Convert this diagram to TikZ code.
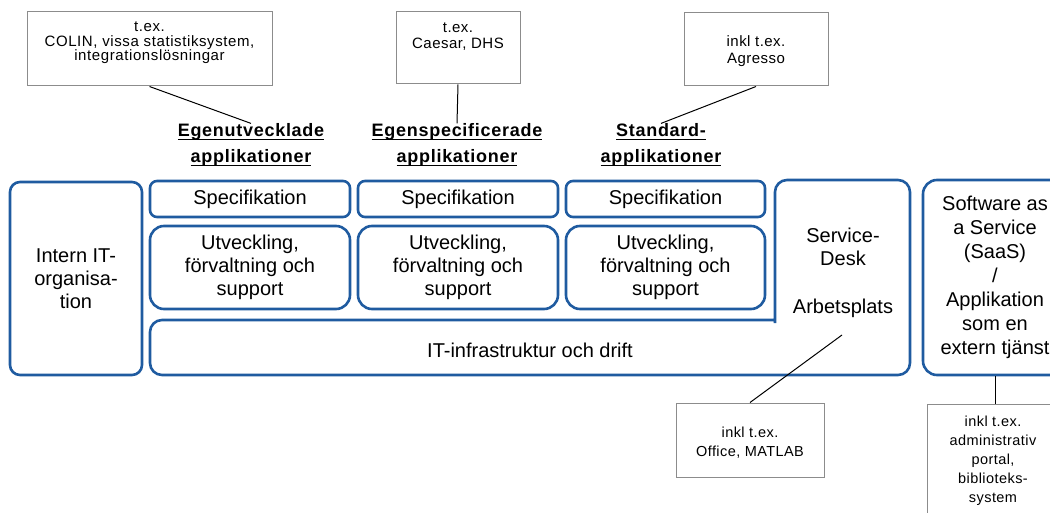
\documentclass[tikz,border=0pt]{standalone}
\usepackage{fontspec}
\setmainfont{Liberation Sans}
\newfontfamily\callfont{Liberation Sans}[LetterSpace=4]
\newfontfamily\callfontb{Liberation Sans}[LetterSpace=3]
\newfontfamily\headfont{Liberation Sans}[LetterSpace=4]
\definecolor{itblue}{RGB}{31,91,160}
\definecolor{callgray}{RGB}{140,140,140}
\newcommand\hul[1]{\setbox0\hbox{#1}\leavevmode\rlap{\rule[-3.4pt]{\wd0}{1.5pt}}\box0}
\begin{document}
\begin{tikzpicture}[x=1pt,y=-1pt,
  blk/.style={draw=itblue, line width=2.6pt, rounded corners=10pt, inner sep=0pt},
  txt/.style={font=\fontsize{20}{23}\selectfont, align=center, inner sep=0pt},
  call/.style={draw=callgray, line width=1pt, inner sep=0pt},
  calltxt/.style={font=\callfontb\fontsize{15}{17}\selectfont, align=center, inner sep=0pt},
  head/.style={font=\headfont\bfseries\fontsize{18}{26}\selectfont, align=center, inner sep=0pt},
  conn/.style={draw=black, line width=1pt}]
\useasboundingbox (0,0) rectangle (1050,513);
\clip (0,0) rectangle (1050,513);
% left box
\node[blk, txt, minimum width=132pt, minimum height=193pt] (intern) at (76,278.5) {Intern IT-\\organisa-\\tion};
% specification boxes
\node[blk, txt, rounded corners=7pt, minimum width=200pt, minimum height=36pt] (spec1) at (250,199) {Specifikation};
\node[blk, txt, rounded corners=7pt, minimum width=200pt, minimum height=36pt] (spec2) at (458,199) {Specifikation};
\node[blk, txt, rounded corners=7pt, minimum width=199pt, minimum height=36pt] (spec3) at (665.5,199) {Specifikation};
% development boxes
\node[blk, txt, rounded corners=14pt, minimum width=200pt, minimum height=83pt] (utv1) at (250,267.5) {Utveckling,\\förvaltning och\\support};
\node[blk, txt, rounded corners=14pt, minimum width=200pt, minimum height=83pt] (utv2) at (458,267.5) {Utveckling,\\förvaltning och\\support};
\node[blk, txt, rounded corners=14pt, minimum width=199pt, minimum height=83pt] (utv3) at (665.5,267.5) {Utveckling,\\förvaltning och\\support};
% infrastructure + service desk outline
\draw[draw=itblue, line width=2.6pt, rounded corners=12pt] (775,323) -- (775,180) -- (910,180) -- (910,375) -- (150,375) -- (150,320) -- (776.3,320);
\node[txt] (infra) at (530,350) {IT-infrastruktur och drift};
\node[txt] (sd) at (843,247) {Service-\\Desk};
\node[txt] (ap) at (843,308) {Arbetsplats};
% SaaS
\node[blk, txt, font=\fontsize{20}{24}\selectfont, rounded corners=14pt, minimum width=144pt, minimum height=195pt] (saas) at (995,277.5) {Software as\\a Service\\(SaaS)\\/\\Applikation\\som en\\extern tjänst};
% headings
\node[head] (h1) at (251,145) {\hul{Egenutvecklade}\\\hul{applikationer}};
\node[head] (h2) at (457,145) {\hul{Egenspecificerade}\\\hul{applikationer}};
\node[head] (h3) at (661,145) {\hul{Standard-}\\\hul{applikationer}};
% callouts top
\node[call, minimum width=245pt, minimum height=74pt] (call1) at (149.5,49) {};
\node[calltxt, font=\callfont\fontsize{15}{14.5}\selectfont] (call1t) at (149.5,43) {t.ex.\\COLIN, vissa statistiksystem,\\integrationslösningar};
\node[call, minimum width=124pt, minimum height=72pt] (call2) at (458,48) {};
\node[calltxt, font=\callfontb\fontsize{15}{16}\selectfont] (call2t) at (458,36.5) {t.ex.\\Caesar, DHS};
\node[call, minimum width=144pt, minimum height=73pt] (call3) at (756,49.5) {};
\node[calltxt] (call3t) at (756,51) {inkl t.ex.\\Agresso};
% callouts bottom
\node[call, minimum width=148pt, minimum height=74pt] (office) at (750,440) {};
\node[calltxt, font=\callfontb\fontsize{14.5}{19}\selectfont] (officet) at (750,443) {inkl t.ex.\\Office, MATLAB};
\node[call, minimum width=136pt, minimum height=116pt] (saascall) at (995,462) {};
\node[calltxt, font=\callfontb\fontsize{14.5}{19}\selectfont] (saascallt) at (993,461) {inkl t.ex.\\administrativ\\portal,\\biblioteks-\\system};
% connectors
\coordinate (sdpt) at (842,335);
\draw[conn] (call1.south) -- (h1.north);
\draw[conn] (call2.south) -- (h2.north);
\draw[conn] (call3.south) -- (h3.north);
\draw[conn] (sdpt) -- (office.north);
\draw[conn] (saas.south) -- (saascall.north);
\end{tikzpicture}
\end{document}
